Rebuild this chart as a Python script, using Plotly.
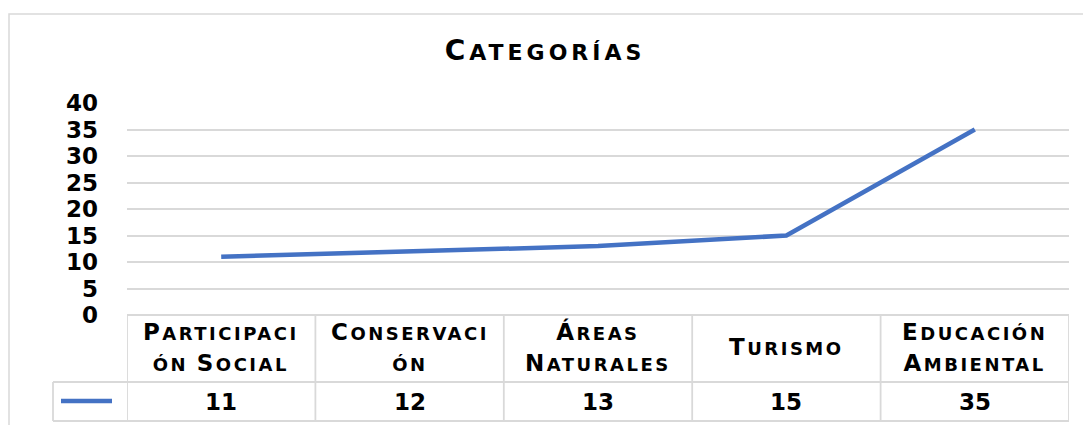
import plotly.graph_objects as go

# ── datos ────────────────────────────────────────────────────────────────────
categorias = ["Participaci\nón Social", "Conservaci\nón", "Áreas\nNaturales",
              "Turismo", "Educación\nAmbiental"]
valores = [11, 12, 13, 15, 35]
titulo = "Categorías"

W, H = 1083, 425
L, R, T, B = 127, 14, 103, 110
PW, PH = W - L - R, H - T - B
FONT = "DejaVu Sans"
GRID = "#d9d9d9"
AZUL = "#4472C4"


def px_x(px):
    return (px - L) / PW


def px_y(py):
    return (H - B - py) / PH


def versalitas(texto, grande, chica, esp):
    """Imita small caps: mayúsculas grandes, minúsculas como mayúsculas chicas."""
    lineas = []
    for linea in texto.split("\n"):
        partes, buf, tam = [], "", None
        for ch in linea:
            t = grande if ch.isupper() else chica
            if t != tam and buf:
                partes.append((buf, tam))
                buf = ""
            tam = t
            buf += ch.upper()
        if buf:
            partes.append((buf, tam))
        lineas.append("".join(
            f'<span style="font-size:{t}px;letter-spacing:{esp}px">{s}</span>'
            for s, t in partes))
    return "<br>".join(lineas)


etiquetas = [c.replace("\n", " ") for c in categorias]

fig = go.Figure()
fig.add_trace(go.Scatter(
    x=etiquetas, y=valores, mode="lines",
    line=dict(color=AZUL, width=4.5), showlegend=False, hoverinfo="skip",
))

# ── tabla de datos bajo el gráfico ─────────────────────────────────────────
y_fila = px_y(382)
y_fondo = px_y(421)
x_ley = px_x(53)
shapes = []
for i in range(len(categorias) + 1):
    shapes.append(dict(type="line", xref="x", yref="paper",
                       x0=i - 0.5, x1=i - 0.5, y0=y_fondo, y1=0,
                       line=dict(color=GRID, width=1.8)))
for yy in (y_fila, y_fondo):
    shapes.append(dict(type="line", xref="paper", yref="paper",
                       x0=x_ley, x1=1, y0=yy, y1=yy,
                       line=dict(color=GRID, width=1.8)))
shapes.append(dict(type="line", xref="paper", yref="paper",
                   x0=x_ley, x1=x_ley, y0=y_fondo, y1=y_fila,
                   line=dict(color=GRID, width=1.8)))
# clave de la serie
shapes.append(dict(type="line", xref="paper", yref="paper",
                   x0=px_x(61), x1=px_x(112), y0=px_y(401), y1=px_y(401),
                   line=dict(color=AZUL, width=4.5)))
# borde exterior del área del gráfico
shapes.append(dict(type="rect", xref="paper", yref="paper",
                   x0=px_x(9), x1=px_x(W + 20), y0=px_y(H + 20), y1=px_y(14),
                   line=dict(color=GRID, width=1.5), layer="below"))

annotations = []
for c, e, v in zip(categorias, etiquetas, valores):
    annotations.append(dict(
        x=e, xref="x", y=px_y(347), yref="paper", yanchor="middle",
        text=versalitas(c, 23, 18, 2.5), showarrow=False,
        font=dict(family=FONT, size=24, color="black", weight="bold"),
    ))
    annotations.append(dict(
        x=e, xref="x", y=px_y(402), yref="paper", yanchor="middle",
        text=str(v), showarrow=False,
        font=dict(family=FONT, size=23, color="black", weight="bold"),
    ))

fig.update_layout(
    width=W, height=H,
    margin=dict(l=L, r=R, t=T, b=B),
    paper_bgcolor="white", plot_bgcolor="white",
    title=dict(
        text=versalitas(titulo, 28, 22, 4),
        x=545 / W, xanchor="center", y=1 - 52 / H, yanchor="middle",
        font=dict(family=FONT, size=22, color="black", weight="bold"),
    ),
    xaxis=dict(showticklabels=False, showgrid=False, zeroline=False,
               showline=False, range=[-0.5, len(categorias) - 0.5]),
    yaxis=dict(range=[0, 40], dtick=5, showgrid=True, gridcolor=GRID,
               gridwidth=1.5, zeroline=True, zerolinecolor=GRID,
               zerolinewidth=1.8, showline=False, ticks="",
               ticklabelstandoff=28,
               tickfont=dict(family=FONT, size=23, color="black", weight="bold")),
    shapes=shapes, annotations=annotations,
)

fig.write_html("out.html", config={"displayModeBar": False},
               post_script="document.body.style.margin='0';")
